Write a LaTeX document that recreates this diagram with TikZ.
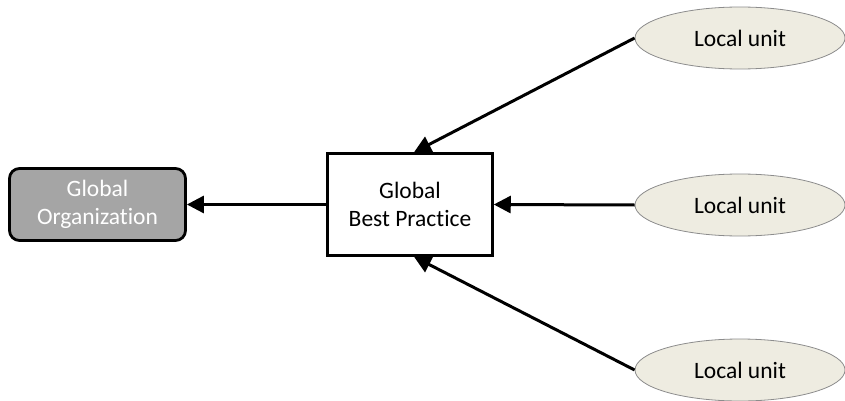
\documentclass[tikz,border=0pt]{standalone}
\usepackage{fontspec}
\setmainfont{Carlito}[Ligatures={NoCommon}]
\usetikzlibrary{arrows.meta,shapes.geometric}
\definecolor{orgfill}{HTML}{A5A5A5}
\definecolor{unitfill}{HTML}{EEECE1}
\definecolor{unitline}{HTML}{8C8C8C}
\begin{document}
\begin{tikzpicture}[x=1pt,y=-1pt,
  every node/.style={font=\fontsize{23.5}{28}\selectfont, align=center, inner sep=0pt},
  orgbox/.style={draw=black, line width=2.8pt, fill=orgfill, rounded corners=10pt,
    minimum width=176pt, minimum height=72pt, text=white},
  practicebox/.style={draw=black, line width=2.5pt, fill=white,
    minimum width=165pt, minimum height=102pt},
  unit/.style={ellipse, draw=unitline, line width=0.8pt, fill=unitfill,
    minimum width=210pt, minimum height=62pt},
  flow/.style={line width=3pt, -{Triangle[length=17pt,width=17pt]}}
]
\useasboundingbox (0,0) rectangle (845,401);

\node[orgbox] (org) at (97.5,204.5) {Global\\Organization};
\node[practicebox] (bp) at (410,204.5) {Global\\Best Practice};

\node[unit] (u1) at (740,38) {Local unit};
\node[unit] (u2) at (740,205) {Local unit};
\node[unit] (u3) at (740,370) {Local unit};

\coordinate (bpTop) at ([xshift=4pt]bp.north);
\coordinate (bpBot) at ([xshift=4pt]bp.south);

\draw[flow] (u1.west) -- (bpTop);
\draw[flow] (u2.west) -- (bp.east);
\draw[flow] (u3.west) -- (bpBot);
\draw[flow] (bp.west) -- (org.east);
\end{tikzpicture}
\end{document}
